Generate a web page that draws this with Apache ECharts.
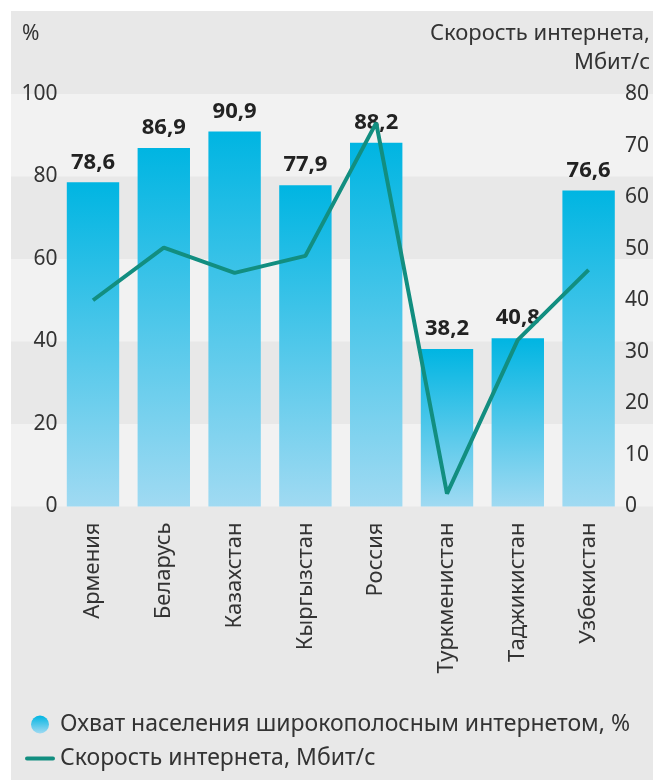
<!DOCTYPE html>
<html>
<head>
<meta charset="utf-8">
<script src="https://cdn.jsdelivr.net/npm/echarts@6/dist/echarts.min.js"></script>
<style>
html,body{margin:0;padding:0;background:#ffffff;}
#chart{width:653px;height:780px;}
</style>
</head>
<body>
<div id="chart"></div>
<script>
const categories = ['Армения','Беларусь','Казахстан','Кыргызстан','Россия','Туркменистан','Таджикистан','Узбекистан'];
const coverage = [78.6, 86.9, 90.9, 77.9, 88.2, 38.2, 40.8, 76.6];
const speed = [40.0, 50.2, 45.3, 48.6, 74.4, 2.5, 32.3, 45.9];
const coverageName = 'Охват населения широкополосным интернетом, %';
const speedName = 'Скорость интернета, Мбит/с';
const leftAxisTitle = '%';
const rightAxisTitleLines = ['Скорость интернета,', 'Мбит/с'];

const FONT = 'Noto Sans';
const chart = echarts.init(document.getElementById('chart'), null, {renderer:'canvas'});
const gridTop = 94, gridBottom = 273.5;
chart.setOption({
  animation: false,
  backgroundColor: '#ffffff',
  graphic: [
    {type:'rect', shape:{x:11,y:11,width:642,height:769}, style:{fill:'#e8e8e8'}, z:-10, silent:true},
    {type:'text', left:22, top:24, style:{text:leftAxisTitle, fontFamily:FONT, fontSize:21, fill:'#333'}, z:10},
    {type:'text', right:3, top:23, style:{text:rightAxisTitleLines[0], fontFamily:FONT, fontSize:22, fill:'#333'}, z:10},
    {type:'text', right:3, top:52, style:{text:rightAxisTitleLines[1], fontFamily:FONT, fontSize:22, fill:'#333'}, z:10}
  ],
  grid: [
    {left:57.6, right:29, top:gridTop, bottom:gridBottom},
    {left:11, right:0, top:gridTop, bottom:gridBottom}
  ],
  xAxis: [
    {type:'category', gridIndex:0, data:categories, boundaryGap:true,
     axisLine:{show:false}, axisTick:{show:false},
     axisLabel:{rotate:90, margin:16, fontFamily:FONT, fontSize:22, color:'#333'}},
    {type:'value', gridIndex:1, show:false, min:0, max:1}
  ],
  yAxis: [
    {type:'value', gridIndex:0, min:0, max:100, interval:20, position:'left',
     axisLine:{show:false}, axisTick:{show:false}, splitLine:{show:false},
     axisLabel:{margin:0, fontFamily:FONT, fontSize:21, color:'#333'}},
    {type:'value', gridIndex:0, min:0, max:80, interval:10, position:'right',
     axisLine:{show:false}, axisTick:{show:false}, splitLine:{show:false},
     axisLabel:{margin:1, fontFamily:FONT, fontSize:21, color:'#333'}},
    {type:'value', gridIndex:1, min:0, max:100, interval:20,
     axisLine:{show:false}, axisTick:{show:false}, splitLine:{show:false}, axisLabel:{show:false},
     splitArea:{show:true, areaStyle:{color:['#f2f2f2','#e8e8e8']}}}
  ],
  legend: {
    orient:'vertical', left:20, top:708, itemWidth:30, itemHeight:18, itemGap:11,
    textStyle:{fontFamily:FONT, fontSize:23, color:'#333'},
    data:[
      {name:coverageName, icon:'circle'},
      {name:speedName, icon:'path://M2,0 L28,0 A2,2 0 0 1 28,4 L2,4 A2,2 0 0 1 2,0 Z', itemStyle:{color:'#128e80'}}
    ]
  },
  series: [
    {name:coverageName, type:'bar', xAxisIndex:0, yAxisIndex:0, data:coverage, barCategoryGap:'26%',
     itemStyle:{color:new echarts.graphic.LinearGradient(0,0,0,1,[{offset:0,color:'#00b5e2'},{offset:1,color:'#a0daf2'}])},
     label:{show:true, position:'top', distance:9, fontFamily:FONT, fontSize:22, fontWeight:'bold', color:'#222',
       formatter:p=>String(p.value).replace('.',',')}, z:2},
    {name:speedName, type:'line', xAxisIndex:0, yAxisIndex:1, data:speed, symbol:'none',
     lineStyle:{color:'#128e80', width:4}, itemStyle:{color:'#128e80'}, z:3}
  ]
});
</script>
</body>
</html>
